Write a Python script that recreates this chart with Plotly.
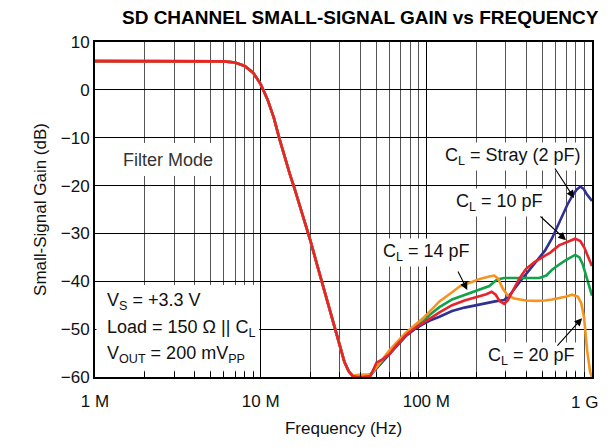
import plotly.graph_objects as go

# ---------------- data (frequency in MHz, gain in dB) ----------------
freq_common = [1, 2, 4, 6, 7, 8, 9, 10, 11, 12, 13, 14, 15, 16, 18, 20, 22, 24, 26, 28, 30, 32, 34, 36]
gain_common = [6.0, 6.0, 6.0, 5.95, 5.7, 5.0, 3.6, 1.2, -2.0, -5.8, -10.3, -14.3, -17.6, -20.6, -26.3,
               -31.6, -36.8, -41.5, -46.0, -50.0, -53.8, -56.8, -58.8, -59.8]

freq_stray = [38, 42, 46, 50, 55, 60, 66, 75, 85, 95, 105, 120, 143, 170, 200, 230, 260, 295, 320, 363,
              400, 460, 520, 574, 620, 659, 710, 758, 810, 850, 890, 930, 1000]
gain_stray = [-60, -60.0, -59.6, -58.2, -56.6, -55.0, -53.6, -51.5, -50.0, -49.0, -48.2, -47.4, -46.2,
              -45.5, -45.0, -44.5, -44.2, -43.9, -42.8, -40.3, -38.5, -36.0, -33.6, -31.0, -28.5, -26.2,
              -24.0, -22.2, -20.8, -20.2, -20.7, -21.8, -23.2]

freq_10pf = [38, 42, 46, 50, 55, 60, 66, 75, 85, 95, 105, 120, 143, 170, 200, 230, 248, 262, 278, 295,
             310, 330, 363, 400, 450, 500, 560, 632, 700, 791, 850, 900, 950, 1000]
gain_10pf = [-60, -60, -59.8, -57.0, -56.2, -55.2, -53.4, -51.3, -49.8, -48.8, -47.8, -46.5, -45.0, -44.0,
             -43.3, -42.7, -42.2, -42.8, -44.2, -44.7, -44.0, -42.2, -39.5, -37.4, -36.0, -35.0, -34.0,
             -32.5, -31.8, -31.1, -31.6, -33.0, -35.0, -36.8]

freq_14pf = [38, 42, 46, 50, 55, 60, 66, 75, 85, 95, 105, 120, 143, 170, 200, 240, 268, 295, 363, 480,
             530, 574, 640, 700, 791, 840, 880, 930, 1000]
gain_14pf = [-60, -59.8, -59.4, -58.0, -56.3, -54.8, -53.2, -51.2, -49.6, -48.5, -47.0, -45.4, -43.8,
             -42.9, -42.0, -41.0, -39.6, -39.3, -39.3, -39.3, -38.8, -37.6, -36.4, -35.5, -34.5, -35.0,
             -36.5, -39.5, -43.0]

freq_20pf = [38, 42, 46, 50, 55, 60, 66, 75, 85, 95, 105, 120, 143, 160, 190, 210, 240, 257, 272, 287,
             310, 340, 400, 460, 520, 574, 700, 758, 820, 860, 895, 935, 975, 1000]
gain_20pf = [-59.6, -59.5, -59.6, -58.0, -56.0, -54.4, -52.8, -50.8, -49.2, -47.8, -46.3, -44.2, -42.3,
             -41.0, -40.1, -39.5, -39.0, -38.8, -39.5, -41.3, -43.0, -43.6, -44.0, -44.1, -44.0, -43.8,
             -43.2, -42.8, -43.2, -44.5, -47.5, -54.5, -59.0, -60.0]

series_names = ["C<sub>L</sub> = Stray (2 pF)", "C<sub>L</sub> = 14 pF", "C<sub>L</sub> = 20 pF",
                "C<sub>L</sub> = 10 pF"]
series_freqs = [freq_stray, freq_14pf, freq_20pf, freq_10pf]
series_gains = [gain_stray, gain_14pf, gain_20pf, gain_10pf]
series_colors = ["#2E3192", "#12A24A", "#F7931E", "#E8232A"]

x_tick_vals = [1e6, 1e7, 1e8, 1e9]
x_tick_text = ["1 M", "10 M", "100 M", ""]
last_tick_text = "1 G"   # drawn as a right-aligned label so it stays inside the window
y_tick_vals = [-60, -50, -40, -30, -20, -10, 0, 10]

MHZ = 1e6
FONT = "Liberation Sans, Arial, Helvetica, sans-serif"

fig = go.Figure()
for name, fr, gn, col in zip(series_names, series_freqs, series_gains, series_colors):
    xs = [f * MHZ for f in freq_common + fr]
    ys = gain_common + gn
    fig.add_trace(go.Scatter(x=xs, y=ys, mode="lines", name=name,
                             line=dict(color=col, width=2.6), showlegend=False,
                             hoverinfo="skip"))

minor_vals = [m * 10 ** e for e in (6, 7, 8) for m in range(2, 10)]

# page body has an 8 px margin, so the figure is offset by 8 px inside the 608x447 window
fig.update_layout(
    width=600, height=431,
    margin=dict(l=87, r=16, t=34, b=62, autoexpand=False),
    paper_bgcolor="white", plot_bgcolor="white",
    font=dict(family=FONT, size=17, color="#111"),
    title=dict(text="<b>SD CHANNEL SMALL-SIGNAL GAIN vs FREQUENCY</b>",
               x=0.587, xanchor="center", y=0.979, yanchor="middle",
               font=dict(family=FONT, size=19, color="#000")),
    xaxis=dict(type="log", range=[6, 9], tickvals=x_tick_vals, ticktext=x_tick_text,
               automargin=False, ticklabeloverflow="allow",
               showgrid=True, gridcolor="#000", gridwidth=1.2,
               ticks="inside", ticklen=0, showline=True, linecolor="#000", linewidth=2,
               mirror=True, zeroline=False, ticklabelstandoff=8,
               minor=dict(tickvals=minor_vals, showgrid=True, gridcolor="#555", gridwidth=1,
                          ticks="inside", ticklen=5, tickcolor="#000", tickwidth=1),
               title=dict(text="Frequency (Hz)", standoff=12, font=dict(size=17))),
    yaxis=dict(range=[-60, 10], tickvals=y_tick_vals, automargin=False,
               ticklabeloverflow="allow",
               showgrid=True, gridcolor="#000", gridwidth=1.2,
               ticks="inside", ticklen=5, tickcolor="#000", showline=True, linecolor="#000",
               linewidth=2, mirror="ticks", zeroline=False,
               title=dict(text="Small-Signal Gain (dB)", standoff=10, font=dict(size=17))),
)

fig.add_annotation(x=1, y=0, xref="paper", yref="paper", text=last_tick_text, showarrow=False,
                   xanchor="right", yanchor="middle", xshift=8, yshift=-25,
                   font=dict(size=17, color="#111"))

# white boxes hiding grid behind the text blocks (curves never pass there)
fig.add_shape(type="rect", xref="paper", yref="y", x0=0.003, x1=1 / 3 - 0.003, y0=-58.7, y1=-40.8,
              fillcolor="white", line=dict(width=0), layer="above")
fig.add_shape(type="rect", xref="paper", yref="y", x0=0.003, x1=0.2555, y0=-18.0, y1=-11.1,
              fillcolor="white", line=dict(width=0), layer="above")

# text blocks
fig.add_annotation(x=6.443, y=-14.65, xref="x", yref="y", text="Filter Mode", showarrow=False,
                   font=dict(size=18, color="#333"))
cond_lines = ["V<sub>S</sub> = +3.3 V", "Load = 150 Ω || C<sub>L</sub>", "V<sub>OUT</sub> = 200 mV<sub>PP</sub>"]
cond_y = [-44.3, -49.8, -55.4]
for t, yv in zip(cond_lines, cond_y):
    fig.add_annotation(x=0.02, y=yv, xref="paper", yref="y", text=t, showarrow=False,
                       xanchor="left", font=dict(size=18, color="#111"))

# curve labels with arrows
labels = [
    (series_names[0], 8.524, -14.0, 8.8915, -22.6, -20, -31),
    (series_names[3], 8.440, -23.6, 8.843, -31.4, -27, -25),
    (series_names[1], 8.003, -33.9, 8.247, -41.8, -10, -20),
    (series_names[2], 8.633, -55.8, 8.940, -47.7, -26, 29),
]
for text, lx, ly, hx, hy, ax, ay in labels:
    fig.add_annotation(x=lx, y=ly, xref="x", yref="y", text=text, showarrow=False,
                       bgcolor="white", borderpad=2, font=dict(size=18, color="#111"))
    fig.add_annotation(x=hx, y=hy, xref="x", yref="y", text="", showarrow=True,
                       ax=ax, ay=ay, arrowhead=2, arrowsize=1.4, arrowwidth=1.1,
                       arrowcolor="#000", standoff=0)

fig.write_html("out.html")
